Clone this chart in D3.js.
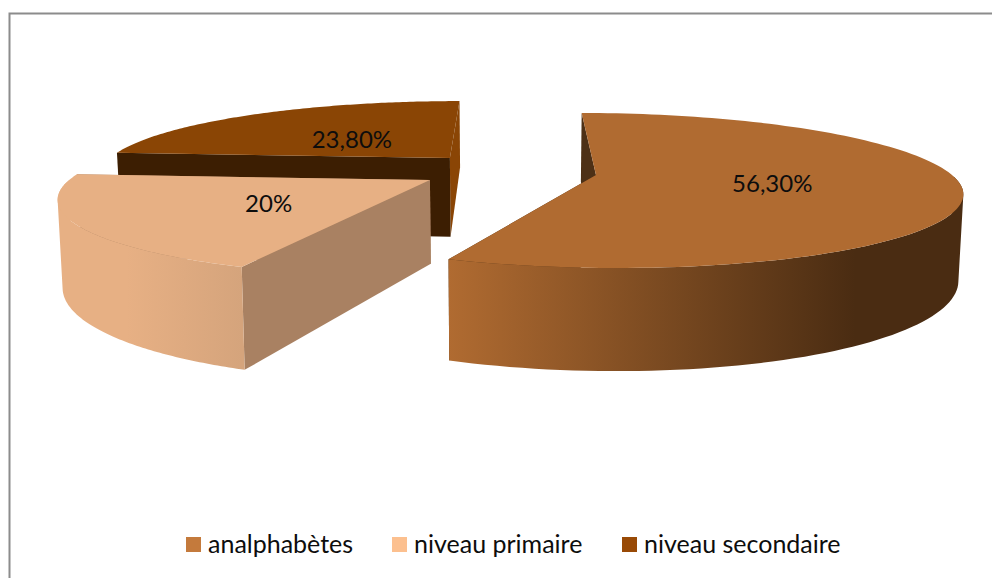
<!DOCTYPE html>
<html><head><meta charset="utf-8">
<script src="https://cdn.jsdelivr.net/npm/d3@7"></script>
<style>html,body{margin:0;padding:0;background:#fff}svg{display:block}</style>
</head><body><svg id="c" width="992" height="578"></svg>
<script>
const categories = ["analphabètes", "niveau primaire", "niveau secondaire"];
const values = [56.3, 20, 23.8];
const valueLabels = ["56,30%", "20%", "23,80%"];
const legendColors = ["#c47a3c", "#fcc08f", "#994a06"];
const topColors = ["#b06b31", "#e7b084", "#8a4505"];
const startWallColors = ["#4d3016", "#a98162", "#3c1e02"];
const endWallColors = ["#4d3016", "#a98162", "#8a4505"];
const outerFrom = ["#b06b31", "#e7b084", "#8a4505"];
const outerTo = ["#4a2c12", "#d5a47c", "#8a4505"];

// Perspective camera: unit-disc ground coordinates -> screen
const W = 992, H = 578;
const R = 356, vanishX = 510, horizonY = 175, squash = 74.4, k = 0.2, depth = 82.5, converge = 0.011;
// explode offsets per slice (world units)
const explodeX = [86, -79, -63], explodeZ = [0, 0.067, -0.24];
const labelRadius = [0.485, 0.49, 0.48], labelDy = [-2, 0, 1];

const svg = d3.select("#c");
const defs = svg.append("defs");

const project = (i, a, r) => {
  const u = r * Math.sin(a), v = -r * Math.cos(a);
  const z = explodeZ[i] + v, w = 1 - k * z;
  return {x: vanishX + (explodeX[i] + R * u) / w, y: horizonY + squash * z / w, w, v};
};
const lower = p => ({x: vanishX + (p.x - vanishX) * (1 - converge), y: p.y + depth / p.w});
const path = pts => d3.line().x(p => p.x).y(p => p.y)(pts) + "Z";

const arcs = d3.pie().sort(null).startAngle(0).endAngle(2 * Math.PI)(values);

// frame
svg.append("path").attr("d", d3.line()([[9.5, H], [9.5, 13.5], [W, 13.5]]))
  .attr("fill", "none").attr("stroke", "#8c8c8c").attr("stroke-width", 2);

[2, 1, 0].forEach(i => {
  const d = arcs[i];
  const g = svg.append("g");
  const n = 120;
  const arcTop = d3.range(n + 1).map(j => project(i, d.startAngle + (d.endAngle - d.startAngle) * j / n, 1));
  const apex = project(i, 0, 0);
  const first = arcTop[0], last = arcTop[n];
  const wall = (p, fill) => g.append("path")
    .attr("d", path([apex, p, lower(p), lower(apex)])).attr("fill", fill);
  // radial walls, back one first
  if (first.y < last.y) { wall(first, startWallColors[i]); wall(last, endWallColors[i]); }
  else { wall(last, endWallColors[i]); wall(first, startWallColors[i]); }
  // rim: only the part of the arc that faces the viewer, swept down as a union of quads
  const front = d3.pairs(arcTop).filter(([a, b]) => a.v >= 0 && b.v >= 0);
  if (front.length) {
    const id = "rim" + i;
    const startX = i === 0 ? last.x : last.x + 50;
    const toX = i === 0 ? 855 : first.x;
    const lg = defs.append("linearGradient").attr("id", id).attr("gradientUnits", "userSpaceOnUse")
      .attr("x1", startX).attr("x2", toX).attr("y1", 0).attr("y2", 0);
    lg.append("stop").attr("offset", 0).attr("stop-color", outerFrom[i]);
    lg.append("stop").attr("offset", 1).attr("stop-color", outerTo[i]);
    const ordered = front.map(([a, b]) => (b.x - a.x) * (lower(b).y - a.y) - (b.y - a.y) * (lower(b).x - a.x) >= 0
      ? [a, b, lower(b), lower(a)] : [b, a, lower(a), lower(b)]);
    g.append("path").attr("d", ordered.map(path).join("")).attr("fill", `url(#${id})`)
      .attr("fill-rule", "nonzero");
  }
  // top
  g.append("path").attr("d", path([apex].concat(arcTop))).attr("fill", topColors[i]);
});

// data labels
arcs.forEach((d, i) => {
  const p = project(i, (d.startAngle + d.endAngle) / 2, labelRadius[i]);
  svg.append("text").attr("x", p.x + 2).attr("y", p.y + 2 + labelDy[i])
    .attr("text-anchor", "middle").attr("dominant-baseline", "central")
    .attr("font-family", "Lato, sans-serif").attr("font-size", 24).attr("fill", "#0d0d0d")
    .text(valueLabels[i]);
});

// legend
const swatchX = [186, 392, 622];
const leg = svg.append("g").selectAll("g").data(categories).join("g")
  .attr("transform", (d, i) => `translate(${swatchX[i]},0)`);
leg.append("rect").attr("y", 537).attr("width", 15).attr("height", 15).attr("fill", (d, i) => legendColors[i]);
leg.append("text").attr("x", 22).attr("y", 553)
  .attr("font-family", "Lato, sans-serif").attr("font-size", 25).attr("fill", "#0d0d0d").text(d => d);
</script></body></html>
